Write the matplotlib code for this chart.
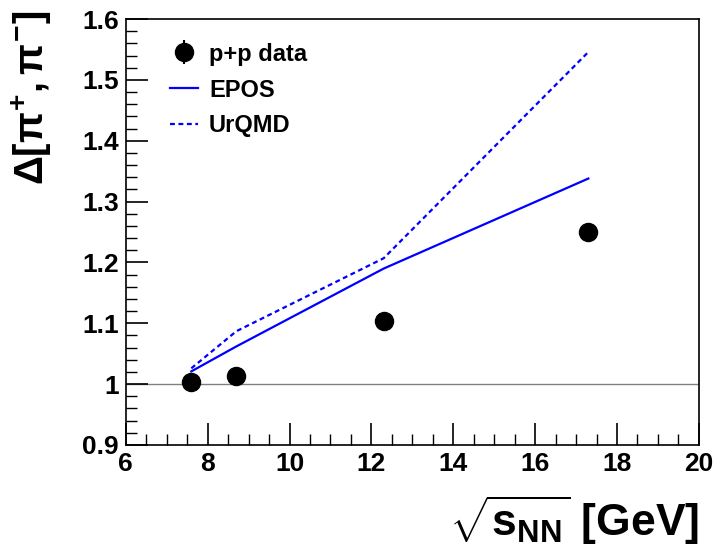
import matplotlib
matplotlib.use("Agg")
import matplotlib.pyplot as plt
from matplotlib.ticker import MultipleLocator

energies = [7.6, 8.7, 12.3, 17.3]
pp_data = [1.003, 1.013, 1.103, 1.250]
pp_err = [0.004, 0.004, 0.005, 0.008]
epos = [1.021, 1.062, 1.190, 1.338]
urqmd = [1.026, 1.087, 1.207, 1.546]

plt.rcParams['font.family'] = ['Liberation Sans', 'DejaVu Sans']
plt.rcParams['mathtext.fontset'] = 'custom'
plt.rcParams['mathtext.rm'] = 'Liberation Sans:bold'
plt.rcParams['mathtext.bf'] = 'Liberation Sans:bold'
plt.rcParams['mathtext.it'] = 'Liberation Sans:bold'

fig = plt.figure(figsize=(7.19, 5.47), dpi=100)
ax = fig.add_axes([0.175, 0.1865, 0.797, 0.7785])

ax.axhline(1.0, color='#808080', lw=1.0, zorder=1)
h_epos, = ax.plot(energies, epos, color='#0000ff', lw=1.6, label='EPOS', zorder=2)
h_urqmd, = ax.plot(energies, urqmd, color='#0000ff', lw=1.6, ls=(0, (2.2, 1.6)), label='UrQMD', zorder=2)
h_pp = ax.errorbar(energies, pp_data, yerr=pp_err, fmt='o', color='black', ms=13,
                   elinewidth=1.5, capsize=0, label='p+p data', zorder=3)

ax.set_xlim(6, 20)
ax.set_ylim(0.9, 1.6)
ax.xaxis.set_major_locator(MultipleLocator(2))
ax.xaxis.set_minor_locator(MultipleLocator(0.5))
ax.yaxis.set_major_locator(MultipleLocator(0.1))
ax.yaxis.set_minor_locator(MultipleLocator(0.02))
ax.set_yticks([0.9, 1.0, 1.1, 1.2, 1.3, 1.4, 1.5, 1.6])
ax.set_yticklabels(['0.9', '1', '1.1', '1.2', '1.3', '1.4', '1.5', '1.6'])
ax.tick_params(which='major', direction='in', length=16, width=1.2, labelsize=19, pad=5)
ax.tick_params(which='minor', direction='in', length=8, width=1.0)
for lab in ax.get_xticklabels() + ax.get_yticklabels():
    lab.set_fontweight('bold')
for sp in ax.spines.values():
    sp.set_linewidth(1.2)

ax.set_ylabel(r'$\Delta[\pi^{+},\pi^{-}]$', fontsize=29)
ax.yaxis.set_label_coords(-0.125, 1.02)
ax.yaxis.label.set_horizontalalignment('right')
ax.set_xlabel(r'$\sqrt{\mathbf{s_{NN}}}$ [GeV]', fontsize=32, fontweight='bold')
ax.xaxis.set_label_coords(1.0, -0.115)
ax.xaxis.label.set_horizontalalignment('right')
ax.xaxis.label.set_verticalalignment('top')

leg = ax.legend([h_pp, h_epos, h_urqmd], ['p+p data', 'EPOS', 'UrQMD'],
                loc='upper left', bbox_to_anchor=(0.04, 0.995), frameon=False,
                prop={'weight': 'bold', 'size': 17}, handlelength=1.2,
                handletextpad=0.45, labelspacing=0.55, numpoints=1)

fig.savefig('out.png', dpi=100)
